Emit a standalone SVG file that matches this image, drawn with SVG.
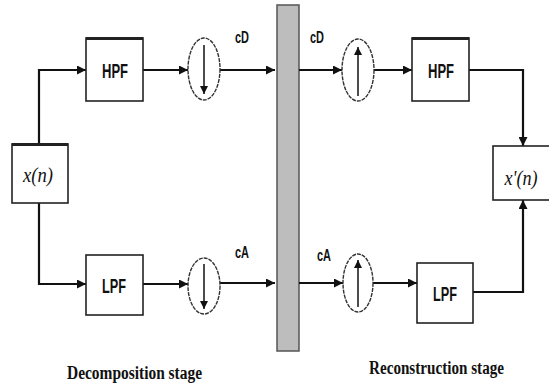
<svg xmlns="http://www.w3.org/2000/svg" width="549" height="387" viewBox="0 0 549 387">
<style>
.box{fill:#fff;stroke:#222;stroke-width:1.6}
.top{stroke:#222;stroke-width:3}
.ell{fill:#fff;stroke:#333;stroke-width:1.4}
.w{fill:none;stroke:#111;stroke-width:2.2}
.t{font-family:"Liberation Sans",Arial,sans-serif;font-weight:bold;font-size:20px;fill:#111;text-anchor:middle}
.lbl{font-family:"Liberation Sans",Arial,sans-serif;font-weight:bold;font-size:17px;fill:#111;text-anchor:middle}
.x{font-family:"Liberation Serif","Times New Roman",serif;font-style:italic;font-size:22px;fill:#111;text-anchor:middle}
.s{font-family:"Liberation Serif","Times New Roman",serif;font-weight:bold;font-size:18px;fill:#111}
</style>
<defs>
<marker id="ah" viewBox="0 0 10 10" refX="10" refY="5" markerWidth="10" markerHeight="9" markerUnits="userSpaceOnUse" orient="auto">
<path d="M0,0 L10,5 L0,10 z" fill="#111"/>
</marker>
<marker id="sh" viewBox="0 0 10 10" refX="10" refY="5" markerWidth="9" markerHeight="8" markerUnits="userSpaceOnUse" orient="auto">
<path d="M0,0 L10,5 L0,10 z" fill="#111"/>
</marker>
</defs>
<rect width="549" height="387" fill="#fff"/>

<g id="bar">
<rect x="277" y="5" width="22" height="346" fill="#bdbdbd" stroke="#555" stroke-width="1.5"/>
</g>

<g id="connectors">
<path class="w" d="M39,144 V70 H86" marker-end="url(#ah)"/>
<path class="w" d="M143,70 H188" marker-end="url(#ah)"/>
<path class="w" d="M220,70 H275" marker-end="url(#ah)"/>
<path class="w" d="M39,203 V284 H86" marker-end="url(#ah)"/>
<path class="w" d="M143,284 H188" marker-end="url(#ah)"/>
<path class="w" d="M220,283 H275" marker-end="url(#ah)"/>
<path class="w" d="M299,70 H342" marker-end="url(#ah)"/>
<path class="w" d="M374,70 H412" marker-end="url(#ah)"/>
<path class="w" d="M469,70 H523 V146" marker-end="url(#ah)"/>
<path class="w" d="M299,283 H343" marker-end="url(#ah)"/>
<path class="w" d="M373,283 H417" marker-end="url(#ah)"/>
<path class="w" d="M473,292 H523 V200" marker-end="url(#ah)"/>
</g>

<g id="xn">
<rect class="box" x="12" y="144" width="56" height="59"/>
<line class="top" x1="12" y1="144.5" x2="68" y2="144.5"/>
<text class="x" x="38" y="182" textLength="30" lengthAdjust="spacingAndGlyphs">x(n)</text>
</g>

<g id="hpf1">
<rect class="box" x="86" y="38" width="57" height="63"/>
<line class="top" x1="86" y1="38.5" x2="143" y2="38.5"/>
<text class="t" x="115" y="78" textLength="26" lengthAdjust="spacingAndGlyphs">HPF</text>
</g>
<g id="lpf1">
<rect class="box" x="86" y="255" width="57" height="60"/>
<text class="t" x="114" y="293" textLength="24" lengthAdjust="spacingAndGlyphs">LPF</text>
</g>

<g id="down1">
<ellipse class="ell" cx="204" cy="69" rx="16" ry="31" stroke-dasharray="4 1"/>
<line x1="204" y1="45" x2="204" y2="94" stroke="#111" stroke-width="1.5" marker-end="url(#sh)"/>
</g>
<g id="down2">
<ellipse class="ell" cx="204" cy="286" rx="16" ry="28" stroke-dasharray="4 1"/>
<line x1="204" y1="264" x2="204" y2="309" stroke="#111" stroke-width="1.5" marker-end="url(#sh)"/>
</g>

<g id="up1">
<ellipse class="ell" cx="358" cy="70" rx="16" ry="31" stroke-dasharray="4 1"/>
<line x1="358" y1="96" x2="358" y2="47" stroke="#111" stroke-width="1.5" marker-end="url(#sh)"/>
</g>
<g id="up2">
<ellipse class="ell" cx="358" cy="283" rx="15" ry="29" stroke-dasharray="4 1"/>
<line x1="358" y1="307" x2="358" y2="260" stroke="#111" stroke-width="1.5" marker-end="url(#sh)"/>
</g>

<g id="hpf2">
<rect class="box" x="412" y="38" width="57" height="63"/>
<line class="top" x1="412" y1="38.5" x2="469" y2="38.5"/>
<text class="t" x="441" y="78" textLength="26" lengthAdjust="spacingAndGlyphs">HPF</text>
</g>
<g id="lpf2">
<rect class="box" x="417" y="263" width="56" height="60"/>
<text class="t" x="445" y="301" textLength="24" lengthAdjust="spacingAndGlyphs">LPF</text>
</g>

<g id="xrec">
<rect class="box" x="493" y="146" width="60" height="54"/>
<text class="x" x="521" y="185" textLength="33" lengthAdjust="spacingAndGlyphs">x'(n)</text>
</g>

<g id="labels">
<text class="lbl" x="242" y="43" textLength="14" lengthAdjust="spacingAndGlyphs">cD</text>
<text class="lbl" x="242" y="258" textLength="14" lengthAdjust="spacingAndGlyphs">cA</text>
<text class="lbl" x="317" y="43" textLength="14" lengthAdjust="spacingAndGlyphs">cD</text>
<text class="lbl" x="324" y="261" textLength="14" lengthAdjust="spacingAndGlyphs">cA</text>
<text class="s" x="67" y="379" textLength="135" lengthAdjust="spacingAndGlyphs">Decomposition stage</text>
<text class="s" x="369" y="374" textLength="135" lengthAdjust="spacingAndGlyphs">Reconstruction stage</text>
</g>
</svg>
